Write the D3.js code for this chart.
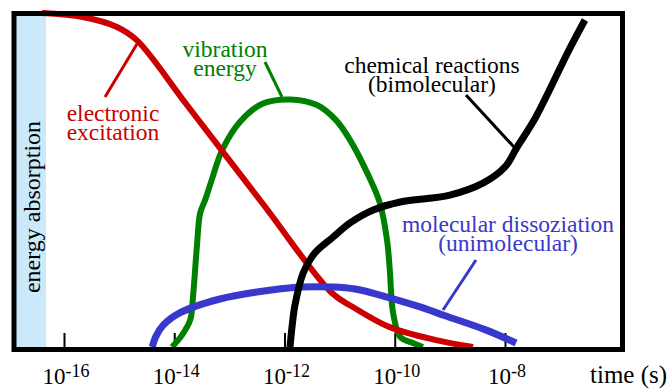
<!DOCTYPE html>
<meta charset="utf-8">
<script src="https://d3js.org/d3.v7.min.js"></script>
<style>
    body { margin: 0; background: #fff; }
    svg text { font-family: 'Liberation Serif', 'Times New Roman', serif; }
</style>
<body>
<script>
    var width = 672,
        height = 389;

    // time as log10(seconds), value as fraction of the box height
    var redLogT = [-16.40, -15.66, -15.04, -14.68, -13.77, -12.39, -11.14, -10.76, -10.09, -9.25, -8.58];
    var redV = [1.009, 0.997, 0.967, 0.927, 0.731, 0.432, 0.163, 0.121, 0.060, 0.021, 0.0];

    var greenLogT = [-14.04, -13.86, -13.71, -13.66, -13.59, -13.53, -13.44, -13.32, -13.13, -12.81, -12.40, -11.90,
        -11.41, -11.07, -10.81, -10.50, -10.27, -10.14, -10.09, -10.03, -9.90, -9.67, -9.49];
    var greenV = [0.0, 0.036, 0.082, 0.151, 0.302, 0.405, 0.444, 0.505, 0.595, 0.680, 0.735, 0.748,
        0.731, 0.686, 0.625, 0.526, 0.435, 0.323, 0.233, 0.103, 0.030, 0.012, 0.0];

    var blueLogT = [-14.40, -14.33, -14.20, -13.90, -13.17, -12.50, -11.72, -11.12, -10.72, -10.27, -9.54, -9.10, -8.34, -7.80];
    var blueV = [0.0, 0.033, 0.066, 0.103, 0.145, 0.166, 0.181, 0.181, 0.175, 0.157, 0.121, 0.095, 0.051, 0.012];

    var blackLogT = [-11.90, -11.86, -11.81, -11.66, -11.45, -11.12, -10.81, -10.39, -9.90, -9.00, -8.40, -8.00, -7.78, -7.44, -6.84, -6.55];
    var blackV = [0.0, 0.066, 0.127, 0.224, 0.284, 0.332, 0.375, 0.414, 0.438, 0.459, 0.495, 0.544, 0.604, 0.695, 0.897, 0.988];

    var tickExp = [-16, -14, -12, -10, -8];

    var svg = d3.select('body').append('svg')
        .attr('width', width)
        .attr('height', height);

    var x = d3.scaleLog()
        .domain([1e-16, 1e-8])
        .range([64, 505]);
    var y = d3.scaleLinear()
        .domain([0, 1])
        .range([347, 16]);

    function pts(logT, v) {
        return logT.map((d, i) => [Math.pow(10, d), v[i]]);
    }

    //absorption band
    svg.append("rect")
        .attr("x", 16)
        .attr("y", 16)
        .attr("width", 30)
        .attr("height", 331)
        .style("fill", "#cce9fb");

    svg.append("text")
        .attr("transform", "translate(40,207) rotate(-90)")
        .attr("text-anchor", "middle")
        .style("font-size", "24px")
        .text("energy absorption");

    //ticks
    var axis = d3.axisBottom(x)
        .tickValues(tickExp.map(e => Math.pow(10, e)))
        .tickSize(-14)
        .tickFormat("");
    var ga = svg.append("g")
        .attr("transform", "translate(0,347)")
        .call(axis);
    ga.select(".domain").remove();
    ga.selectAll(".tick line").attr("stroke", "#000").attr("stroke-width", 2);

    var labels = svg.append("g").selectAll("text")
        .data(tickExp)
        .enter().append("text")
        .attr("x", d => x(Math.pow(10, d)) + 2)
        .attr("y", 384)
        .attr("text-anchor", "middle")
        .style("font-size", "23px");
    labels.append("tspan").text("10");
    labels.append("tspan")
        .attr("dy", -7)
        .style("font-size", "18px")
        .text(d => "-" + Math.abs(d));

    svg.append("text")
        .attr("x", 590)
        .attr("y", 383)
        .style("font-size", "25px")
        .text("time (s)");

    //curves
    var line = d3.line()
        .x(d => x(d[0]))
        .y(d => y(d[1]))
        .curve(d3.curveCatmullRom.alpha(0.5));

    var series = [
        {p: pts(greenLogT, greenV), c: "#008000", w: 6},
        {p: pts(redLogT, redV), c: "#cc0000", w: 6},
        {p: pts(blueLogT, blueV), c: "#3838cc", w: 7},
        {p: pts(blackLogT, blackV), c: "#000", w: 7}
    ];
    svg.append("g").selectAll("path")
        .data(series)
        .enter().append("path")
        .attr("d", d => line(d.p))
        .style("fill", "none")
        .style("stroke", d => d.c)
        .style("stroke-width", d => d.w)
        .style("stroke-linejoin", "round");

    //pointers
    var pointers = [
        {x1: 137, y1: 44, x2: 105, y2: 97, c: "#cc0000"},
        {x1: 265, y1: 62, x2: 282, y2: 97, c: "#008000"},
        {x1: 466, y1: 95, x2: 514, y2: 147, c: "#000"},
        {x1: 476, y1: 260, x2: 443, y2: 310, c: "#3838cc"}
    ];
    svg.append("g").selectAll("line")
        .data(pointers)
        .enter().append("line")
        .attr("x1", d => d.x1).attr("y1", d => d.y1)
        .attr("x2", d => d.x2).attr("y2", d => d.y2)
        .style("stroke", d => d.c)
        .style("stroke-width", 3);

    //labels
    var notes = [
        {x: 113, y: 121, c: "#cc0000", t: ["electronic", "excitation"]},
        {x: 225, y: 57, c: "#008000", t: ["vibration", "energy"]},
        {x: 432, y: 73, c: "#000", t: ["chemical reactions", "(bimolecular)"]},
        {x: 508, y: 232, c: "#3838cc", t: ["molecular dissoziation", "(unimolecular)"]}
    ];
    var nt = svg.append("g").selectAll("text")
        .data(notes)
        .enter().append("text")
        .attr("text-anchor", "middle")
        .style("font-size", "23.5px")
        .style("fill", d => d.c);
    nt.selectAll("tspan")
        .data(d => d.t.map(s => ({s: s, x: d.x, y: d.y})))
        .enter().append("tspan")
        .attr("x", d => d.x)
        .attr("y", (d, i) => d.y + i * 19)
        .text(d => d.s);

    //frame
    svg.append("rect")
        .attr("x", 14)
        .attr("y", 13.5)
        .attr("width", 608.5)
        .attr("height", 336)
        .style("fill", "none")
        .style("stroke", "#000")
        .style("stroke-width", 5);
</script>
</body>
